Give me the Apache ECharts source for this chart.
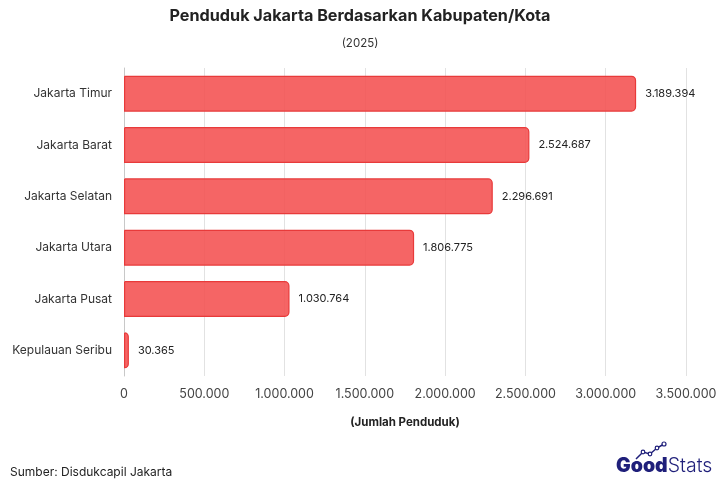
<!DOCTYPE html>
<html><head><meta charset="utf-8">
<script src="https://cdn.jsdelivr.net/npm/echarts@6/dist/echarts.min.js"></script>
<style>html,body{margin:0;padding:0;background:#fff}#c{width:720px;height:480px}</style>
</head><body><div id="c"></div>
<script>
const categories = ['Jakarta Timur','Jakarta Barat','Jakarta Selatan','Jakarta Utara','Jakarta Pusat','Kepulauan Seribu'];
const values = [3189394, 2524687, 2296691, 1806775, 1030764, 30365];
const xTicks = [0, 500000, 1000000, 1500000, 2000000, 2500000, 3000000, 3500000];

const fmt = v => String(v).replace(/\B(?=(\d{3})+(?!\d))/g, '.');
const FONT = 'Inter, "Open Sans", sans-serif';
const chart = echarts.init(document.getElementById('c'));
chart.setOption({
  animation: false,
  textStyle: { fontFamily: FONT },
  title: [
    { text: 'Penduduk Jakarta Berdasarkan Kabupaten/Kota', left: 'center', top: 3,
      textStyle: { fontSize: 16.2, fontWeight: 'bold', color: '#222', fontFamily: FONT } },
    { text: '(2025)', left: 'center', top: 33, textStyle: { fontSize: 11.5, fontWeight: 'normal', color: '#333', fontFamily: FONT } },
    { text: 'Sumber: Disdukcapil Jakarta', left: 5, top: 461, textStyle: { fontSize: 12, fontWeight: 'normal', color: '#222', fontFamily: FONT } }
  ],
  grid: { left: 124, right: 34, top: 68, bottom: 104, containLabel: false },
  xAxis: {
    type: 'value', min: xTicks[0], max: xTicks[xTicks.length - 1], interval: 500000,
    name: '(Jumlah Penduduk)', nameLocation: 'middle', nameGap: 41,
    nameTextStyle: { fontSize: 11.5, fontWeight: 'bold', color: '#222', fontFamily: FONT },
    axisLine: { show: false }, axisTick: { show: false },
    axisLabel: { fontSize: 12.5, color: '#444', margin: 12, formatter: v => fmt(v) },
    splitLine: { show: true, lineStyle: { color: '#e2e2e2', width: 1 } }
  },
  yAxis: {
    type: 'category', data: categories, inverse: true,
    axisLine: { show: true, lineStyle: { color: '#c8c8c8' } }, axisTick: { show: false },
    axisLabel: { fontSize: 12, color: '#333', margin: 12 }
  },
  series: [{
    type: 'bar', data: values, barWidth: '70%',
    itemStyle: { color: 'rgba(244,80,80,0.88)', borderColor: '#e83a3a', borderWidth: 1.2, borderRadius: [0, 4, 4, 0] },
    label: { show: true, position: 'right', distance: 9, fontSize: 11, color: '#222', formatter: p => fmt(p.value) }
  }],
  graphic: [
    { type: 'text', left: 616, top: 456, style: {
      text: '{a|Good}{b|Stats}',
      rich: {
        a: { fontSize: 19.5, fontWeight: 900, fill: '#1f1f7a', fontFamily: FONT },
        b: { fontSize: 19.5, fontWeight: 300, fill: '#1f1f7a', fontFamily: FONT }
      } } },
    { type: 'polyline', shape: { points: [[636,459],[643,452],[650,454],[657,448],[664,444]] },
      style: { stroke: '#1f1f7a', lineWidth: 1.5, fill: null } },
    { type: 'circle', shape: { cx: 643, cy: 452, r: 1.8 }, style: { fill: '#fff', stroke: '#1f1f7a', lineWidth: 1.2 } },
    { type: 'circle', shape: { cx: 650, cy: 454, r: 1.8 }, style: { fill: '#fff', stroke: '#1f1f7a', lineWidth: 1.2 } },
    { type: 'circle', shape: { cx: 657, cy: 448, r: 1.8 }, style: { fill: '#fff', stroke: '#1f1f7a', lineWidth: 1.2 } },
    { type: 'circle', shape: { cx: 664, cy: 444, r: 2 }, style: { fill: '#fff', stroke: '#1f1f7a', lineWidth: 1.2 } }
  ]
});
</script></body></html>
